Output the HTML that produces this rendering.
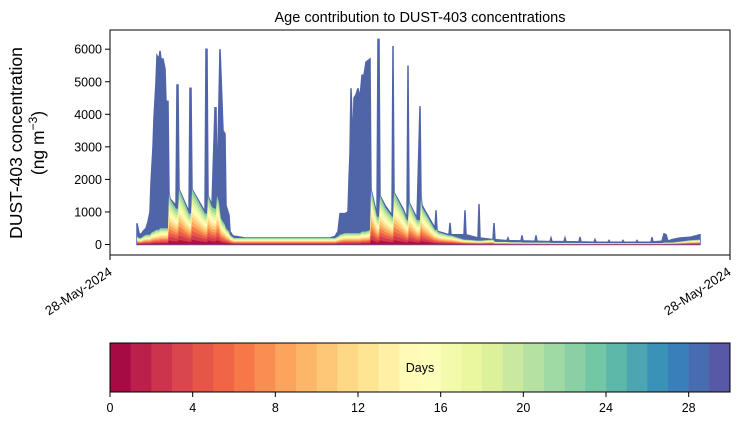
<!DOCTYPE html>
<html><head><meta charset="utf-8">
<style>
body{margin:0;background:#fff;}
svg{display:block;font-family:"Liberation Sans",sans-serif;}
</style></head>
<body>
<svg id="chart" width="739" height="425" viewBox="0 0 739 425">
<text x="420" y="22" text-anchor="middle" font-size="14.5">Age contribution to DUST-403 concentrations</text>
<g id="plot"></g>
<rect x="110" y="30" width="620" height="225" fill="none" stroke="#000" stroke-width="1"/>
<g id="yaxis"></g>
<text transform="translate(22,143) rotate(-90)" text-anchor="middle" font-size="17.5">DUST-403 concentration</text>
<text transform="translate(44,143) rotate(-90)" text-anchor="middle" font-size="17.5">(ng m<tspan baseline-shift="super" font-size="12">−3</tspan>)</text>
<line x1="110" y1="255" x2="110" y2="260" stroke="#000"/>
<line x1="730" y1="255" x2="730" y2="260" stroke="#000"/>
<text transform="translate(113,274) rotate(-33)" text-anchor="end" font-size="13">28-May-2024</text>
<text transform="translate(732,274) rotate(-33)" text-anchor="end" font-size="13">28-May-2024</text>
<g id="cbar"></g>
</svg>
<script>
const hours=[27,29,31,33,36,38,40,41,43,44,46,47,49,50,51,53,55,56,58,59,60,66,67,68,69,79,80,81,82,95,96,97,98,102,105,106,107,109,110,111,113,115,116,119,120,122,124,126,135,220,225,228,230,235,238,239,240,241,243,244,246,248,250,252,254,256,260,261,267,268,269,270,275,282,283,284,293,297,298,299,307,310,311,312,325,326,327,328,339,340,341,354,355,356,368,369,370,383,384,385,397,398,399,411,412,413,425,426,427,440,441,442,454,455,456,469,470,471,484,485,486,498,499,500,512,513,514,526,527,528,541,542,543,552,554,556,558,562,570,580,590];
const totals=[650,350,300,400,500,700,1000,1900,3000,3900,5000,5800,5700,5950,5700,5700,5400,4400,4400,1600,1400,1200,4900,4900,1700,1000,4800,4800,1700,1000,6000,6000,1500,1200,4200,4200,1500,4500,6000,5200,3500,3400,1200,900,400,300,250,250,200,200,250,400,950,950,1000,2000,2800,4800,3000,4500,4600,4800,4500,5200,5200,5600,5700,1700,900,6300,6300,1500,1200,900,6100,1600,1100,800,5500,1300,800,4250,1500,1200,500,1050,450,400,300,660,300,300,1050,300,200,1240,200,150,660,150,120,200,120,110,280,110,100,280,100,90,200,90,90,200,90,80,230,80,70,150,70,70,120,70,70,120,70,70,120,70,70,220,80,100,330,300,100,150,200,220,300];
const aged=[250,200,200,250,300,300,300,350,400,400,450,450,450,500,500,500,500,500,500,1600,1400,1100,1100,1100,1700,950,950,950,1700,950,950,950,1500,1150,1100,1100,1500,1300,1000,800,700,600,500,400,300,250,200,200,200,200,200,250,300,350,350,350,350,350,350,350,350,350,350,400,400,400,450,1700,850,850,850,1500,1150,850,850,1600,1050,750,750,1300,750,750,1500,1150,450,450,450,380,280,280,280,150,150,150,120,120,120,150,120,80,80,80,70,70,70,60,60,60,60,60,50,50,50,50,50,50,50,50,40,40,40,40,40,40,40,40,40,40,40,40,40,40,40,40,60,60,60,60,90,130,150,200];
const cbTicks=[0,4,8,12,16,20,24,28];
const yTicks=[0,1000,2000,3000,4000,5000,6000];
const NS="http://www.w3.org/2000/svg";
const X0=110,X1=730,HMAX=620,Y0=244.5,PER=32.55/1000;
const xs=h=>X0+h*(X1-X0)/HMAX;
const ys=v=>Y0-v*PER;
const spec=["#9e0142","#d53e4f","#f46d43","#fdae61","#fee08b","#ffffbf","#e6f598","#abdda4","#66c2a5","#3288bd","#5e4fa2"];
function hex(c){return [1,3,5].map(i=>parseInt(c.substr(i,2),16));}
function cmap(t){const p=t*10,i=Math.min(9,Math.floor(p)),f=p-i;const a=hex(spec[i]),b=hex(spec[i+1]);return "rgb("+a.map((v,k)=>Math.round(v+(b[k]-v)*f)).join(",")+")";}
function area(vals,frac){let d="M"+xs(hours[0])+","+Y0;for(let i=0;i<hours.length;i++){d+="L"+xs(hours[i]).toFixed(1)+","+ys(vals[i]*frac).toFixed(1);}d+="L"+xs(hours[hours.length-1])+","+Y0+"Z";return d;}
const plot=document.getElementById("plot");
let p=document.createElementNS(NS,"path");
p.setAttribute("d",area(totals,1));p.setAttribute("fill","#5064a8");p.setAttribute("stroke","#5064a8");p.setAttribute("stroke-width","1.5");


plot.appendChild(p);
const N=12;
for(let k=N;k>=1;k--){
  const q=document.createElementNS(NS,"path");
  q.setAttribute("d",area(aged,k/N));
  q.setAttribute("fill",cmap(0.03+0.72*(k-1)/(N-1)));
  
  
  plot.appendChild(q);
}
const ya=document.getElementById("yaxis");
yTicks.forEach(v=>{
  const l=document.createElementNS(NS,"line");
  l.setAttribute("x1",105);l.setAttribute("x2",110);l.setAttribute("y1",ys(v));l.setAttribute("y2",ys(v));l.setAttribute("stroke","#000");
  
  
  ya.appendChild(l);
  const t=document.createElementNS(NS,"text");
  t.setAttribute("x",102);t.setAttribute("y",ys(v)+4.5);t.setAttribute("text-anchor","end");t.setAttribute("font-size","12.5");t.textContent=v;
  
  
  ya.appendChild(t);
});
const cb=document.getElementById("cbar");
const CX=v=>110+v*620/30;
for(let i=0;i<30;i++){
  const r=document.createElementNS(NS,"rect");
  r.setAttribute("x",CX(i));r.setAttribute("y",343);r.setAttribute("width",620/30+0.3);r.setAttribute("height",49);r.setAttribute("fill",cmap((i+0.5)/30));
  
  
  cb.appendChild(r);
}
const fr=document.createElementNS(NS,"rect");
fr.setAttribute("x",110);fr.setAttribute("y",343);fr.setAttribute("width",620);fr.setAttribute("height",49);fr.setAttribute("fill","none");fr.setAttribute("stroke","#000");


cb.appendChild(fr);
const dl=document.createElementNS(NS,"text");
dl.setAttribute("x",420);dl.setAttribute("y",372);dl.setAttribute("text-anchor","middle");dl.setAttribute("font-size","12.5");dl.textContent="Days";


cb.appendChild(dl);
cbTicks.forEach(v=>{
  const l=document.createElementNS(NS,"line");
  l.setAttribute("x1",CX(v));l.setAttribute("x2",CX(v));l.setAttribute("y1",392);l.setAttribute("y2",397);l.setAttribute("stroke","#000");
  
  
  cb.appendChild(l);
  const t=document.createElementNS(NS,"text");
  t.setAttribute("x",CX(v));t.setAttribute("y",412);t.setAttribute("text-anchor","middle");t.setAttribute("font-size","12.5");t.textContent=v;
  
  
  cb.appendChild(t);
});
</script>
</body></html>
